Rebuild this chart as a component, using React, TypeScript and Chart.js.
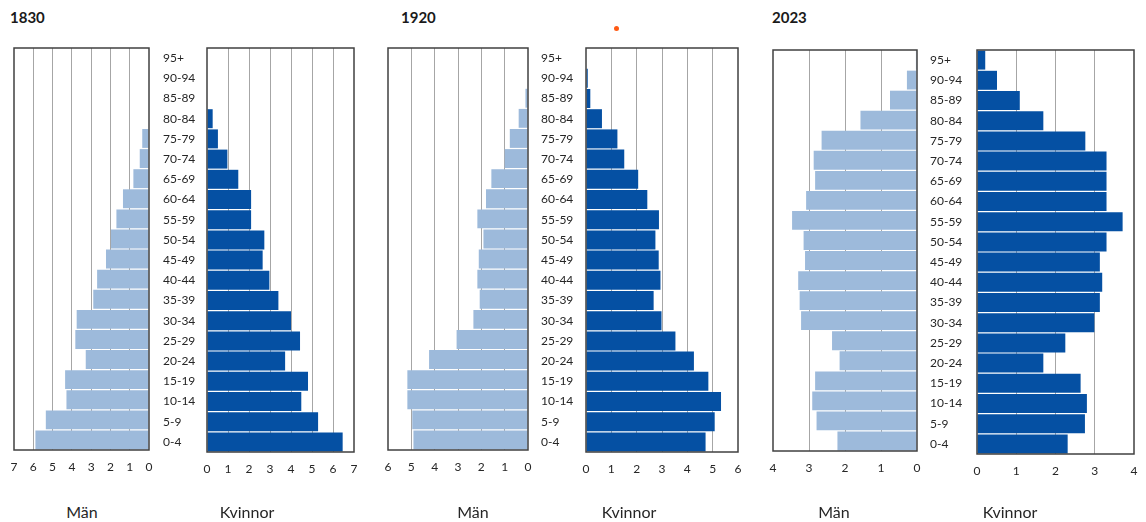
import React, { useEffect, useRef } from "react";
import { Chart, registerables } from "chart.js";

Chart.register(...registerables);

// ---- Data ----
const ageGroups = [
  "0-4", "5-9", "10-14", "15-19", "20-24", "25-29", "30-34", "35-39", "40-44", "45-49",
  "50-54", "55-59", "60-64", "65-69", "70-74", "75-79", "80-84", "85-89", "90-94", "95+",
];

const men1830 = [5.89, 5.35, 4.28, 4.35, 3.28, 3.82, 3.75, 2.89, 2.69, 2.23, 1.97, 1.69, 1.35, 0.81, 0.48, 0.35, 0, 0, 0, 0];
const women1830 = [6.46, 5.29, 4.49, 4.81, 3.72, 4.43, 4.0, 3.4, 2.97, 2.65, 2.73, 2.1, 2.1, 1.49, 0.97, 0.52, 0.27, 0, 0, 0];

const men1920 = [4.91, 4.96, 5.17, 5.17, 4.24, 3.06, 2.34, 2.07, 2.17, 2.11, 1.91, 2.17, 1.8, 1.57, 1.0, 0.78, 0.4, 0.11, 0, 0];
const women1920 = [4.72, 5.08, 5.33, 4.83, 4.26, 3.53, 2.98, 2.67, 2.94, 2.87, 2.74, 2.88, 2.42, 2.06, 1.51, 1.24, 0.63, 0.17, 0.07, 0];

const men2023 = [2.21, 2.79, 2.91, 2.83, 2.15, 2.36, 3.22, 3.26, 3.3, 3.11, 3.15, 3.47, 3.08, 2.83, 2.87, 2.65, 1.57, 0.75, 0.28, 0.03];
const women2023 = [2.31, 2.75, 2.8, 2.64, 1.69, 2.25, 2.99, 3.13, 3.19, 3.13, 3.3, 3.71, 3.3, 3.3, 3.3, 2.76, 1.69, 1.09, 0.51, 0.21];

const years = ["1830", "1920", "2023"];
const axisMax = [7, 6, 4];
const sideTitles = ["Män", "Kvinnor"];

// ---- Styles ----
const MEN_COLOR = "#9DBADB";
const WOMEN_COLOR = "#0550A3";
const FRAME_COLOR = "#404040";
const GRID_COLOR = "#A6A6A6";
const TEXT_COLOR = "#262626";
const FONT = "Lato, 'Liberation Sans', sans-serif";

type Plot = { l: number; r: number; t: number; b: number };

const framePlugin = {
  id: "frame",
  afterDatasetsDraw(chart: any) {
    const { ctx, chartArea: a } = chart;
    ctx.save();
    ctx.strokeStyle = FRAME_COLOR;
    ctx.lineWidth = 1.5;
    ctx.strokeRect(a.left, a.top, a.right - a.left, a.bottom - a.top);
    ctx.restore();
  },
};

function SideChart(props: { men: boolean; data: number[]; max: number; plot: Plot; labelLeft?: number }) {
  const { men, data, max, plot, labelLeft = 0 } = props;
  const ref = useRef<HTMLCanvasElement>(null);
  const padTop = 10;
  const axisH = 30;
  const padLeft = men ? 18 : 2;
  const padRight = 18;
  const yW = men ? 0 : plot.l - labelLeft;
  const canvasLeft = men ? plot.l - padLeft : labelLeft - padLeft;
  const width = men ? plot.r - plot.l + padLeft + padRight : plot.r - labelLeft + padLeft + padRight;
  const height = padTop + (plot.b - plot.t) + axisH;
  const top = plot.t - padTop;

  useEffect(() => {
    if (!ref.current) return;
    const chart = new Chart(ref.current, {
      type: "bar",
      data: {
        labels: ageGroups,
        datasets: [
          {
            label: men ? "Män" : "Kvinnor",
            data,
            backgroundColor: men ? MEN_COLOR : WOMEN_COLOR,
            borderWidth: 0,
            barPercentage: 1,
            categoryPercentage: 0.94,
          },
        ],
      },
      options: {
        indexAxis: "y",
        animation: false,
        responsive: false,
        maintainAspectRatio: false,
        layout: { padding: { left: padLeft, right: padRight, top: padTop, bottom: 0 } },
        plugins: { legend: { display: false }, tooltip: { enabled: false }, title: { display: false } },
        scales: {
          x: {
            type: "linear",
            min: 0,
            max,
            reverse: men,
            position: "bottom",
            ticks: {
              stepSize: 1,
              padding: 10,
              color: TEXT_COLOR,
              font: { family: FONT, size: 12 },
              maxRotation: 0,
              autoSkip: false,
            },
            grid: {
              drawTicks: false,
              lineWidth: 1,
              color: (c: any) =>
                c.tick && (c.tick.value === 0 || c.tick.value === max) ? "rgba(0,0,0,0)" : GRID_COLOR,
            },
            border: { display: false },
            afterFit: (s: any) => {
              s.height = axisH;
            },
          },
          y: {
            type: "category",
            reverse: true,
            position: men ? "right" : "left",
            display: !men,
            grid: { display: false },
            border: { display: false },
            ticks: {
              crossAlign: "far",
              padding: 0,
              color: TEXT_COLOR,
              font: { family: FONT, size: 12 },
              autoSkip: false,
            },
            afterFit: (s: any) => {
              s.width = yW;
            },
          },
        },
      } as any,
      plugins: [framePlugin],
    });
    return () => chart.destroy();
  }, []);

  return (
    <canvas
      ref={ref}
      width={width}
      height={height}
      style={{ position: "absolute", left: canvasLeft, top, width, height }}
    />
  );
}

const panels = [
  {
    year: years[0],
    max: axisMax[0],
    men: men1830,
    women: women1830,
    menPlot: { l: 14, r: 149, t: 48, b: 450 },
    womenPlot: { l: 207, r: 354, t: 48, b: 452 },
    labelLeft: 163,
    yearX: 10,
    menTitleX: 82,
    womenTitleX: 247,
  },
  {
    year: years[1],
    max: axisMax[1],
    men: men1920,
    women: women1920,
    menPlot: { l: 388, r: 528, t: 48, b: 450 },
    womenPlot: { l: 586, r: 738, t: 48, b: 452 },
    labelLeft: 541,
    yearX: 401,
    menTitleX: 473,
    womenTitleX: 629,
  },
  {
    year: years[2],
    max: axisMax[2],
    men: men2023,
    women: women2023,
    menPlot: { l: 773, r: 917, t: 50, b: 451 },
    womenPlot: { l: 977, r: 1134, t: 50, b: 454 },
    labelLeft: 930,
    yearX: 772,
    menTitleX: 834,
    womenTitleX: 1010,
  },
];

export default function App() {
  return (
    <div
      style={{
        position: "absolute",
        left: 0,
        top: 0,
        width: 1146,
        height: 522,
        background: "#ffffff",
        fontFamily: FONT,
        color: TEXT_COLOR,
        overflow: "hidden",
      }}
    >
      {panels.map((p) => (
        <React.Fragment key={p.year}>
          <div
            style={{
              position: "absolute",
              left: p.yearX,
              top: 8,
              fontSize: 15,
              fontWeight: 700,
              lineHeight: "18px",
              color: "#1a1a1a",
            }}
          >
            {p.year}
          </div>
          <SideChart men={true} data={p.men} max={p.max} plot={p.menPlot} />
          <SideChart men={false} data={p.women} max={p.max} plot={p.womenPlot} labelLeft={p.labelLeft} />
          <div
            style={{
              position: "absolute",
              left: p.menTitleX - 40,
              width: 80,
              top: 502,
              textAlign: "center",
              fontSize: 16,
              lineHeight: "20px",
            }}
          >
            {sideTitles[0]}
          </div>
          <div
            style={{
              position: "absolute",
              left: p.womenTitleX - 40,
              width: 80,
              top: 502,
              textAlign: "center",
              fontSize: 16,
              lineHeight: "20px",
            }}
          >
            {sideTitles[1]}
          </div>
        </React.Fragment>
      ))}
      <div
        style={{
          position: "absolute",
          left: 614,
          top: 26,
          width: 5,
          height: 5,
          borderRadius: "50%",
          background: "#FF5A14",
        }}
      />
    </div>
  );
}
